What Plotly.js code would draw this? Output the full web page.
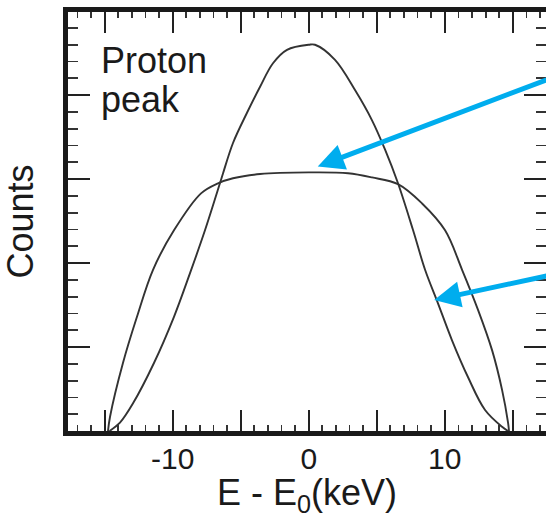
<!DOCTYPE html>
<html>
<head>
<meta charset="utf-8">
<script src="https://cdn.plot.ly/plotly-3.0.1.min.js"></script>
<style>html,body{margin:0;padding:0;background:#fff;}#chart{width:546px;height:518px;}</style>
</head>
<body>
<div id="chart"></div>
<script>
// Energy offsets (keV) and counts
const narrowX = [-14.65, -13.88, -12.92, -11.38, -9.91, -8.73, -7.63, -6.53, -6.30, -5.57, -4.54, -3.58, -2.63, -1.60, 0.0, 0.46, 1.93, 3.40, 4.65, 5.61, 6.56, 7.67, 8.55, 9.50, 10.53, 11.71, 12.96, 14.21, 14.65];
const narrowY = [0.0, 0.10, 0.33, 0.81, 1.36, 1.88, 2.39, 2.95, 3.07, 3.43, 3.79, 4.10, 4.38, 4.54, 4.60, 4.60, 4.42, 4.06, 3.70, 3.35, 2.95, 2.39, 1.92, 1.52, 1.08, 0.64, 0.25, 0.05, 0.0];
const broadX = [-14.76, -14.61, -13.66, -12.63, -11.45, -9.91, -7.92, -6.67, -5.57, -3.58, 0.0, 2.89, 4.65, 6.56, 8.33, 10.02, 11.27, 12.45, 13.48, 14.21, 14.65, 14.72];
const broadY = [0.0, 0.17, 0.81, 1.36, 1.92, 2.39, 2.83, 2.95, 3.01, 3.06, 3.08, 3.07, 3.02, 2.94, 2.71, 2.39, 1.92, 1.44, 0.96, 0.49, 0.10, 0.0];
const xTickVals = [-15, -10, -5, 0, 5, 10, 15];
const xTickText = ['', '-10', '', '0', '', '10', ''];
const yTickVals = [0, 1, 2, 3, 4, 5];

const FONT = '"Liberation Sans", Arial, Helvetica, sans-serif';
const lineStyle = {color: '#333333', width: 1.9, shape: 'spline', smoothing: 1};

const traces = [
  {x: broadX, y: broadY, mode: 'lines', line: lineStyle, hoverinfo: 'skip'},
  {x: narrowX, y: narrowY, mode: 'lines', line: lineStyle, hoverinfo: 'skip'}
];

const layout = {
  width: 546, height: 518,
  margin: {l: 68, r: 0, t: 12, b: 87},
  paper_bgcolor: '#fff', plot_bgcolor: '#fff',
  showlegend: false,
  font: {family: FONT, color: '#1a1a1a'},
  xaxis: {
    range: [-17.7, 17.44], showgrid: false, zeroline: false,
    showline: true, linewidth: 5, linecolor: '#1a1a1a', mirror: 'ticks',
    ticks: 'inside', ticklen: 21, tickwidth: 2.2, tickcolor: '#222',
    tickmode: 'array', tickvals: xTickVals, ticktext: xTickText,
    tickfont: {size: 30, family: FONT, color: '#1a1a1a'}, ticklabelstandoff: -3,
    minor: {dtick: 1, ticks: 'inside', ticklen: 6, tickwidth: 1.8, tickcolor: '#333', showgrid: false},
    title: {text: 'E - E<sub>0</sub>(keV)', font: {size: 36, family: FONT, color: '#1a1a1a'}, standoff: 3},
    automargin: false, fixedrange: true
  },
  yaxis: {
    range: [0, 4.99], showgrid: false, zeroline: false,
    showline: true, linewidth: 5, linecolor: '#1a1a1a', mirror: 'ticks',
    ticks: 'inside', ticklen: 22, tickwidth: 2.2, tickcolor: '#222',
    tickmode: 'array', tickvals: yTickVals, showticklabels: false,
    minor: {dtick: 0.2, ticks: 'inside', ticklen: 10, tickwidth: 1.8, tickcolor: '#333', showgrid: false},
    title: {text: 'Counts', font: {size: 36, family: FONT, color: '#1a1a1a'}, standoff: 21},
    automargin: false, fixedrange: true
  },
  annotations: [
    {xref: 'paper', yref: 'paper', x: 0.065, y: 0.884, xanchor: 'left', yanchor: 'middle', align: 'left',
     text: 'Proton', showarrow: false, font: {size: 36, family: FONT, color: '#1a1a1a'}},
    {xref: 'paper', yref: 'paper', x: 0.065, y: 0.791, xanchor: 'left', yanchor: 'middle', align: 'left',
     text: 'peak', showarrow: false, font: {size: 36, family: FONT, color: '#1a1a1a'}},
    {x: 0.66, y: 3.15, ax: 17.6, ay: 4.19, xref: 'x', yref: 'y', axref: 'x', ayref: 'y', text: '',
     showarrow: true, arrowhead: 2, arrowsize: 1.05, arrowwidth: 5, arrowcolor: '#00ADEE', standoff: 0, startstandoff: 0},
    {x: 9.22, y: 1.56, ax: 17.6, ay: 1.85, xref: 'x', yref: 'y', axref: 'x', ayref: 'y', text: '',
     showarrow: true, arrowhead: 2, arrowsize: 1.05, arrowwidth: 5, arrowcolor: '#00ADEE', standoff: 0, startstandoff: 0}
  ]
};

Plotly.newPlot('chart', traces, layout, {staticPlot: true, displayModeBar: false});
</script>
</body>
</html>
